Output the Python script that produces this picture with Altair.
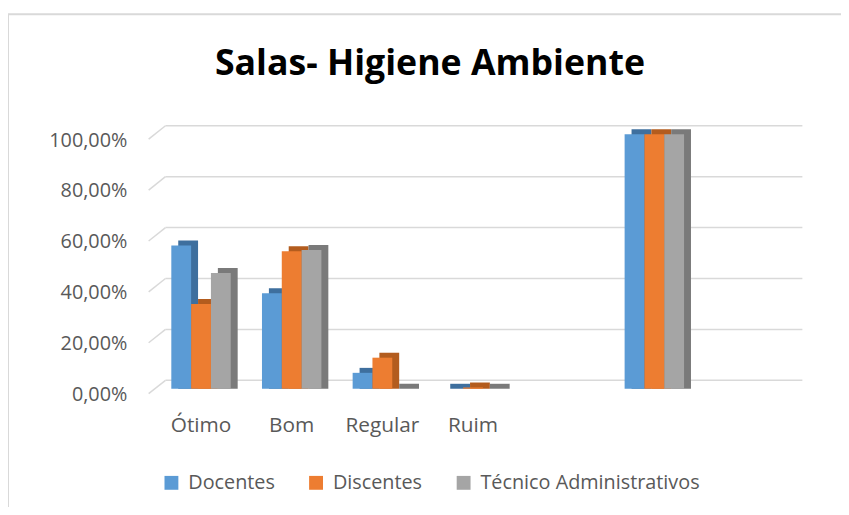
import altair as alt
import pandas as pd

categories = ["Ótimo", "Bom", "Regular", "Ruim", " ", "  ", "   "]
series = ["Docentes", "Discentes", "Técnico Administrativos"]
docentes = [0.5625, 0.375, 0.0625, 0.0, None, 1.0, None]
discentes = [0.333, 0.54, 0.122, 0.005, None, 1.0, None]
tecnicos = [0.4545, 0.5455, 0.0, 0.0, None, 1.0, None]
y_ticks = [0.0, 0.2, 0.4, 0.6, 0.8, 1.0]
title_text = "Salas- Higiene Ambiente"

front_colors = ["#5B9BD5", "#ED7D31", "#A5A5A5"]
side_colors = ["#3E6F9E", "#B35C1E", "#7A7A7A"]
FONT = "Open Sans"
TXT = "#595959"

rows = []
for s, vals in zip(series, [docentes, discentes, tecnicos]):
    for c, v in zip(categories, vals):
        if v is not None:
            rows.append({"cat": c, "series": s, "value": v})
df = pd.DataFrame(rows)
ticks_df = pd.DataFrame({"value": y_ticks})
one = pd.DataFrame({"t": [title_text]})

X = alt.X("cat:N", sort=categories,
          scale=alt.Scale(domain=categories, paddingInner=0.344, paddingOuter=0.25),
          axis=alt.Axis(title=None, labelFont=FONT, labelFontSize=21, labelColor=TXT,
                        ticks=False, domain=False, labelPadding=26, labelAngle=0, grid=False))
Y = alt.Y("value:Q", stack=None,
          scale=alt.Scale(domain=[0, 1], nice=False, zero=True),
          axis=alt.Axis(title=None, values=y_ticks, grid=False, domain=False, ticks=False,
                        tickSize=0, labelPadding=22, labelOffset=6,
                        labelFont=FONT, labelFontSize=20, labelColor=TXT,
                        labelExpr="replace(format(datum.value, '.2%'), '.', ',')"))

frame_left = alt.Chart(one).mark_rule(color="#D9D9D9", strokeWidth=2).encode(
    x=alt.value(-142), y=alt.value(-121), y2=alt.value(420))
frame_top = alt.Chart(one).mark_rule(color="#D9D9D9", strokeWidth=2).encode(
    x=alt.value(-142), x2=alt.value(760), y=alt.value(-121))

grid = alt.Chart(ticks_df).mark_rule(color="#D9D9D9", strokeWidth=1.5, yOffset=-8.5).encode(
    y=Y, x=alt.value(17), x2=alt.value(660))
slant = alt.Chart(ticks_df).mark_rule(color="#D9D9D9", strokeWidth=1.5, yOffset=5, y2Offset=-8.5).encode(
    y=Y, y2=alt.Y2("value"), x=alt.value(0), x2=alt.value(17))

shadow = alt.Chart(df).mark_bar(yOffset=-5, y2Offset=0).encode(
    x=X,
    xOffset=alt.XOffset("series:N", sort=series,
                        scale=alt.Scale(domain=series, range=[7, 67], paddingInner=0, paddingOuter=0)),
    y=Y,
    color=alt.Color("series:N", sort=series,
                    scale=alt.Scale(domain=series, range=side_colors), legend=None))

bars = alt.Chart(df).mark_bar().encode(
    x=X,
    xOffset=alt.XOffset("series:N", sort=series,
                        scale=alt.Scale(domain=series, range=[0, 60], paddingInner=0, paddingOuter=0)),
    y=Y,
    color=alt.Color("series:N", sort=series,
                    scale=alt.Scale(domain=series, range=front_colors),
                    legend=alt.Legend(orient="none", legendX=13, legendY=342,
                                      direction="horizontal", title=None,
                                      symbolType="square", symbolSize=196,
                                      symbolStrokeWidth=0, labelFont=FONT,
                                      labelFontSize=20, labelColor=TXT, labelLimit=0,
                                      columnPadding=31, labelOffset=7, padding=0)))

title = alt.Chart(one).mark_text(font=FONT, fontSize=36, fontWeight="bold", color="#000000",
                                 align="center", baseline="middle").encode(
    text="t:N", x=alt.value(284), y=alt.value(-71))

chart = alt.layer(frame_left, frame_top, grid, slant, shadow, bars, title).resolve_scale(
    color="independent", xOffset="independent"
).properties(
    width=655, height=257,
    autosize=alt.AutoSizeParams(type="none"),
    padding={"left": 142, "top": 125, "right": 44, "bottom": 117},
    background="#FFFFFF",
).configure_view(stroke=None)

chart.save("out.html", embed_options={"renderer": "svg", "actions": False})
